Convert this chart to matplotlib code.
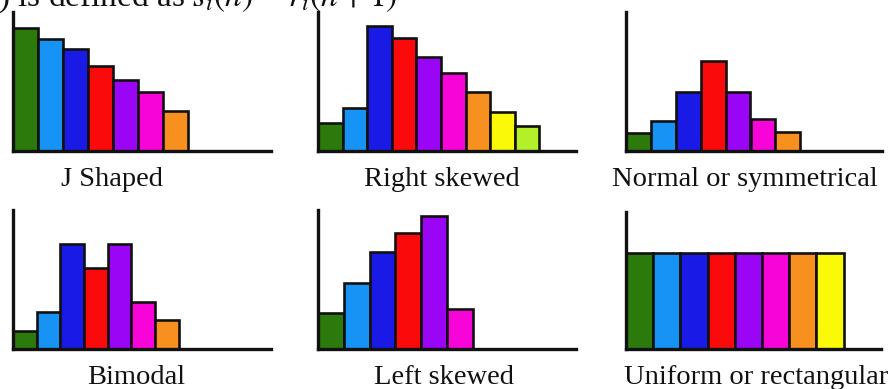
import matplotlib
matplotlib.use("Agg")
import matplotlib.pyplot as plt

# ---- data (bar heights, arbitrary units) ----
titles = ["J Shaped", "Right skewed", "Normal or symmetrical",
          "Bimodal", "Left skewed", "Uniform or rectangular"]
j_shaped = [123, 112, 102, 85, 71, 59, 40]
right_skewed = [28, 43, 125, 113, 94, 78, 59, 39, 25]
normal = [18, 30, 59, 90, 59, 32, 19]
bimodal = [18, 37, 105, 81, 105, 47, 29]
left_skewed = [36, 66, 97, 116, 133, 40]
uniform = [96, 96, 96, 96, 96, 96, 96, 96]
series = [j_shaped, right_skewed, normal, bimodal, left_skewed, uniform]

# ---- styles / layout ----
W, H = 895, 389
palette = ['#2b7a0b', '#1793f5', '#1a1ae6', '#fa0a0a', '#9a05f5',
           '#f705d8', '#f7901e', '#f9f908', '#b3f02a']
# x0 (y-axis), x1 (x-axis end), ytop (y-axis top), base (x-axis), bar width (px)
layout = [
    (13, 271, 12, 151, 25.0),
    (318, 576, 12, 151, 24.6),
    (626, 882, 12, 151, 24.9),
    (13, 271, 210, 349, 23.7),
    (318, 576, 210, 349, 25.8),
    (626, 881, 212, 349, 27.2),
]
label_pos = [(112, 180), (442, 180), (745, 180),
             (136, 377), (444, 378), (756, 378)]

plt.rcParams['font.family'] = ['Liberation Serif', 'DejaVu Serif']
plt.rcParams['mathtext.fontset'] = 'stix'

fig = plt.figure(figsize=(W / 100, H / 100), dpi=100)

for vals, (x0, x1, ytop, base, bw) in zip(series, layout):
    ax = fig.add_axes([x0 / W, 1 - base / H, (x1 - x0) / W, (base - ytop) / H])
    xs = [i + 0.5 for i in range(len(vals))]
    ax.bar(xs, vals, width=1.0, color=palette[:len(vals)],
           edgecolor='#111111', linewidth=1.9, zorder=2)
    ax.set_xlim(0, (x1 - x0) / bw)
    ax.set_ylim(0, base - ytop)
    for s in ('top', 'right'):
        ax.spines[s].set_visible(False)
    for s in ('left', 'bottom'):
        ax.spines[s].set_linewidth(2.4)
        ax.spines[s].set_color('#111111')
        ax.spines[s].set_zorder(3)
    ax.set_xticks([])
    ax.set_yticks([])
    ax.patch.set_alpha(0)

for t, (cx, cy) in zip(titles, label_pos):
    fig.text(cx / W, 1 - cy / H, t, ha='center', va='center',
             fontsize=20.5, color='#111111')

fig.text(-2 / W, 1 - 6 / H, r") is defined as $s_i(n)$ = $r_i(n + 1)$",
         ha='left', va='baseline', fontsize=24, color='#111111')

fig.savefig("out.png", dpi=100)
